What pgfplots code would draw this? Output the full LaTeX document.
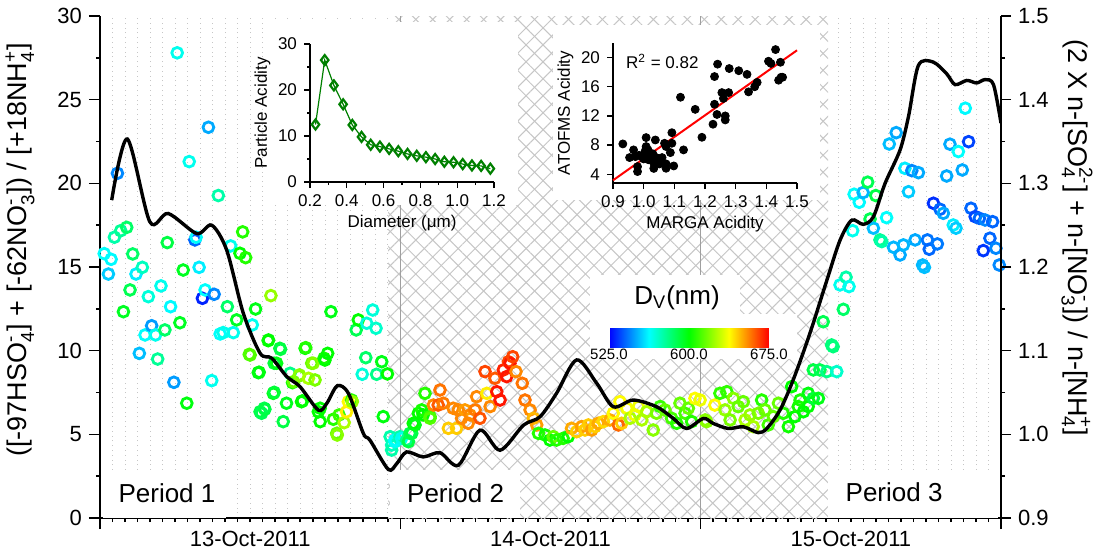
\documentclass[border=0pt]{standalone}
\usepackage{amsmath}
\usepackage{fontspec}
\setmainfont{Liberation Sans}
\usepackage{pgfplots}
\usepackage{pgfplotstable}
\pgfplotsset{compat=1.18}
\usetikzlibrary{patterns.meta}

% stacked super/subscript in text font
\newcommand{\ion}[2]{$^{\text{#1}}_{\text{#2}}$}

% time (days from 13-Oct 00:00), particle acidity, Dv (nm)
\pgfplotstableread{
d y dv
0.014 15.80 563
0.028 14.58 555
0.037 15.46 562
0.048 16.78 575
0.058 20.60 545
0.069 17.17 578
0.078 12.33 595
0.089 17.37 585
0.100 13.63 588
0.109 15.78 585
0.120 14.58 560
0.131 9.84 553
0.141 14.98 572
0.150 10.94 563
0.161 13.23 568
0.172 11.49 548
0.185 10.94 565
0.192 9.50 578
0.203 13.87 565
0.216 11.24 585
0.224 16.46 590
0.235 12.63 562
0.246 8.11 548
0.257 27.80 565
0.266 11.67 595
0.277 14.82 595
0.289 6.86 598
0.297 21.30 565
0.316 16.62 540
0.320 16.78 563
0.330 14.98 560
0.341 13.13 530
0.350 13.63 563
0.361 23.35 550
0.372 8.21 565
0.380 13.37 545
0.394 19.27 575
0.400 11.00 563
0.410 11.08 565
0.424 12.63 585
0.435 16.26 565
0.444 11.08 565
0.455 11.84 595
0.466 15.82 600
0.475 17.10 605
0.485 15.56 605
0.497 9.78 612
0.500 9.74 612
0.507 11.54 565
0.518 12.49 597
0.527 8.69 598
0.530 8.71 598
0.533 6.35 590
0.538 6.26 588
0.547 6.56 588
0.549 6.50 590
0.560 10.60 600
0.561 10.64 600
0.569 13.29 622
0.577 7.45 597
0.580 9.25 592
0.580 7.51 592
0.588 9.25 597
0.599 10.14 592
0.601 10.08 590
0.610 5.76 590
0.621 6.86 596
0.633 8.65 580
0.641 8.09 602
0.644 8.15 615
0.663 8.49 618
0.664 8.55 620
0.671 6.95 600
0.674 7.00 600
0.683 10.14 600
0.685 10.18 605
0.694 8.35 625
0.705 9.25 615
0.710 9.25 620
0.716 8.25 618
0.727 6.35 600
0.733 5.76 600
0.733 6.56 600
0.746 9.55 603
0.749 9.44 600
0.758 9.84 600
0.769 12.33 597
0.777 5.90 605
0.788 5.06 615
0.790 4.96 620
0.796 6.16 608
0.813 5.70 625
0.821 6.35 640
0.827 6.95 638
0.838 7.05 605
0.840 6.95 622
0.853 11.24 588
0.860 11.84 600
0.873 8.59 568
0.885 9.58 585
0.888 11.64 568
0.908 12.43 568
0.919 11.34 570
0.921 8.59 580
0.938 9.34 597
0.943 6.06 598
0.957 8.61 600
0.966 4.86 575
0.971 4.36 572
0.971 4.06 575
0.982 4.56 565
0.982 4.66 563
0.999 4.86 575
1.004 4.76 565
1.021 4.66 580
1.027 4.56 590
1.032 5.06 588
1.038 5.06 590
1.043 5.66 600
1.049 5.56 597
1.060 6.26 600
1.071 6.46 603
1.076 6.16 600
1.082 7.45 605
1.099 6.06 608
1.099 5.96 612
1.110 6.75 655
1.126 6.75 662
1.132 7.65 658
1.143 6.86 657
1.160 5.36 645
1.176 6.56 655
1.187 5.36 645
1.193 6.46 655
1.204 5.96 655
1.215 6.46 652
1.226 5.66 655
1.232 6.16 655
1.249 6.46 657
1.254 7.25 655
1.265 5.96 663
1.282 8.75 665
1.288 7.45 640
1.299 6.66 655
1.315 8.35 662
1.321 7.55 672
1.332 7.05 672
1.343 8.85 670
1.354 8.45 672
1.360 9.34 665
1.365 9.25 672
1.374 9.64 665
1.385 8.75 655
1.406 8.05 658
1.415 7.05 658
1.432 6.46 655
1.443 5.96 648
1.454 5.56 652
1.460 5.06 605
1.482 4.96 603
1.498 4.66 600
1.509 4.86 615
1.520 4.66 605
1.542 4.76 605
1.559 4.86 600
1.570 5.36 650
1.587 5.16 645
1.604 5.46 652
1.615 5.26 645
1.626 5.56 645
1.637 5.26 652
1.648 5.46 645
1.659 5.66 650
1.676 5.76 643
1.698 5.86 650
1.709 6.26 638
1.726 5.56 660
1.731 6.95 638
1.737 5.66 645
1.754 6.56 636
1.765 5.96 625
1.781 6.16 635
1.793 6.66 635
1.804 5.86 625
1.820 6.35 625
1.842 5.26 620
1.853 6.26 618
1.865 6.66 608
1.881 6.46 615
1.903 5.96 610
1.920 5.66 605
1.931 6.86 615
1.948 6.26 610
1.959 6.56 615
1.970 5.76 605
1.981 7.15 638
1.998 7.05 635
2.015 5.86 620
2.020 5.76 620
2.047 6.75 638
2.064 7.45 607
2.081 6.46 622
2.087 7.55 607
2.098 5.86 618
2.109 7.15 620
2.125 6.66 615
2.142 6.95 615
2.148 5.86 625
2.164 6.16 622
2.175 5.46 625
2.192 6.26 618
2.203 7.05 605
2.214 6.46 615
2.225 5.56 610
2.242 6.06 615
2.259 6.86 615
2.275 6.26 605
2.292 5.46 602
2.303 7.85 600
2.314 6.06 600
2.325 6.66 603
2.331 7.05 603
2.342 6.35 600
2.358 7.45 598
2.358 6.66 600
2.375 7.15 592
2.392 7.15 597
2.375 8.85 590
2.397 8.85 588
2.408 11.73 588
2.420 8.75 580
2.436 10.34 582
2.441 10.24 582
2.453 8.75 570
2.464 13.93 565
2.475 12.47 585
2.484 14.39 575
2.494 13.83 565
2.506 17.17 565
2.511 19.35 563
2.528 18.87 562
2.541 19.45 552
2.556 20.07 588
2.564 17.87 588
2.575 17.32 553
2.583 19.27 590
2.597 16.62 578
2.603 16.52 575
2.619 17.95 563
2.628 22.35 553
2.642 16.18 552
2.651 23.03 550
2.664 15.72 550
2.675 16.32 552
2.680 20.90 560
2.692 19.50 555
2.703 20.76 545
2.714 16.62 550
2.725 20.64 550
2.739 15.12 552
2.745 14.98 553
2.755 16.62 542
2.761 16.06 540
2.775 18.81 532
2.788 16.38 543
2.797 18.45 540
2.808 18.21 550
2.819 20.44 550
2.830 22.34 550
2.841 17.51 560
2.850 17.32 555
2.858 21.90 563
2.871 20.80 550
2.881 24.49 562
2.892 22.49 535
2.900 18.51 540
2.914 18.01 535
2.928 17.91 540
2.941 15.98 533
2.947 17.81 545
2.963 16.72 540
2.972 17.71 540
2.983 16.12 545
2.994 15.12 545
}\pmdata

% molar ratio (right axis)
\pgfplotstableread{
d r
0.039 1.280
0.091 1.353
0.166 1.254
0.227 1.264
0.322 1.240
0.372 1.250
0.422 1.220
0.477 1.145
0.533 1.097
0.572 1.091
0.622 1.069
0.666 1.057
0.727 1.029
0.755 1.037
0.790 1.058
0.827 1.049
0.877 1.001
0.899 0.993
0.960 0.958
0.988 0.965
1.021 0.979
1.076 0.973
1.132 0.978
1.193 0.963
1.265 1.005
1.332 0.981
1.410 1.011
1.465 1.021
1.520 1.049
1.587 1.089
1.654 1.061
1.709 1.033
1.775 1.041
1.853 1.033
1.909 1.019
1.953 1.007
2.009 1.019
2.042 1.013
2.092 1.007
2.142 1.009
2.192 1.002
2.220 1.007
2.264 1.029
2.308 1.065
2.364 1.121
2.420 1.184
2.464 1.232
2.503 1.256
2.541 1.251
2.575 1.260
2.614 1.300
2.664 1.340
2.692 1.380
2.725 1.441
2.774 1.445
2.819 1.431
2.847 1.418
2.886 1.423
2.919 1.420
2.947 1.424
2.975 1.418
3.000 1.372
}\ratio

\pgfplotstableread{
dia acid
0.23 12.5
0.28 26.5
0.33 21.0
0.38 16.9
0.43 12.4
0.48 9.8
0.53 8.1
0.58 7.7
0.63 7.2
0.68 6.7
0.73 6.1
0.78 5.7
0.83 5.4
0.88 5.0
0.93 4.4
0.98 4.3
1.03 3.9
1.08 3.6
1.13 3.5
1.18 2.9
}\sizedist

\pgfplotstableread{
marga atofms
0.932 8.16
0.967 7.34
0.954 6.29
0.973 6.42
0.980 5.05
0.980 4.37
0.995 6.42
1.008 9.03
1.008 7.80
1.014 7.34
1.020 6.90
1.009 6.42
1.024 5.97
1.033 5.50
1.033 4.80
1.038 8.70
1.043 5.74
1.052 5.42
1.060 6.29
1.068 8.25
1.073 7.80
1.073 5.42
1.073 4.82
1.087 6.97
1.092 8.25
1.092 9.70
1.098 5.14
1.130 7.34
1.120 14.56
1.168 12.90
1.190 9.07
1.226 10.86
1.231 17.40
1.231 13.60
1.239 12.20
1.241 19.10
1.255 15.20
1.260 14.40
1.266 12.00
1.266 11.45
1.277 15.20
1.279 18.50
1.310 18.20
1.337 17.70
1.342 15.30
1.362 16.00
1.370 16.60
1.407 19.50
1.415 19.20
1.430 21.10
1.446 19.36
1.440 16.90
1.448 17.30
1.453 17.30
1.000 6.10
1.015 6.00
1.040 6.30
1.005 7.20
1.030 6.80
0.985 6.60
}\scat

\begin{document}
\begin{tikzpicture}[font=\fontsize{11}{13}\selectfont]
\useasboundingbox (-50pt,-18pt) rectangle (505.5pt,259pt);

% ---------- main axis (left scale) ----------
\begin{axis}[
  at={(0pt,0pt)}, anchor=south west,
  scale only axis, width=450.5pt, height=251pt,
  xmin=0, xmax=3, ymin=0, ymax=30,
  clip=false,
  axis x line*=bottom, axis y line*=left,
  xtick={0,1,2,3}, xticklabels={},
  extra x ticks={0.5,1.5,2.5},
  extra x tick labels={13-Oct-2011,14-Oct-2011,15-Oct-2011},
  extra x tick style={major tick length=0pt, grid=none,
    xticklabel style={yshift=-3pt}},
  minor x tick num=23,
  xminorgrids=true,
  minor x grid style={gray!45, dotted, line width=0.4pt},
  ytick={0,5,10,15,20,25,30}, minor y tick num=1,
  tick align=outside,
  major tick length=5.5pt, minor tick length=2pt,
  tick style={black, line width=0.8pt},
  axis line style={line width=0.9pt},
  tick label style={font=\fontsize{11}{13}\selectfont},
  /pgf/number format/assume math mode=true,
  colormap={dv}{rgb255(0cm)=(0,0,255); rgb255(1cm)=(0,255,255);
    rgb255(2cm)=(0,255,0); rgb255(3cm)=(255,255,0); rgb255(4cm)=(255,0,0)},
  point meta min=525, point meta max=675,
  colorbar horizontal,
  colorbar style={
    at={(254.5pt,103.5pt)}, anchor=north west,
    scale only axis, width=80pt, height=9.5pt,
    xtick={525,600,675}, xticklabels={525.0,600.0,675.0},
    xticklabel style={font=\fontsize{7.5}{9}\selectfont, yshift=2.5pt},
    major tick length=0pt, axis line style={draw=none},
  },
]
% shaded period 2
\fill[white] (0.959,0) rectangle (2.424,30);
\fill[pattern={Lines[angle=45,distance=6pt,line width=0.5pt]}, pattern color=gray!45]
  (0.959,0) rectangle (2.424,30);
\fill[pattern={Lines[angle=-45,distance=6pt,line width=0.5pt]}, pattern color=gray!45]
  (0.959,0) rectangle (2.424,30);
\draw[gray!75, line width=0.6pt] (1,0) -- (1,30);
\draw[gray!75, line width=0.6pt] (2,0) -- (2,30);
% white panels behind insets, colour bar and period labels
\fill[white] (0.549,18.7) rectangle (1.392,29.64);
\fill[white] (1.508,19.0) rectangle (2.397,29.46);
\fill[white] (1.631,12.2) rectangle (2.131,14.52);
\fill[white] (1.631,9.5) rectangle (2.321,12.2);
\fill[white] (0.966,0) rectangle (1.398,2.87);
\fill[white] (2.424,0) rectangle (2.99,2.87);
\fill[white] (0.01,0) rectangle (0.42,2.87);

\addplot[scatter, only marks, mark=o, mark size=2.7pt,
  scatter/use mapped color={draw=mapped color, fill=none, line width=1.4pt},
  mark options={line width=1.4pt}, point meta=explicit]
  table[x=d, y=y, meta=dv] {\pmdata};

\node[font=\fontsize{13}{15}\selectfont] at (0.223,1.5) {Period 1};
\node[font=\fontsize{13}{15}\selectfont] at (1.184,1.5) {Period 2};
\node[font=\fontsize{13}{15}\selectfont] at (2.644,1.55) {Period 3};
\end{axis}

% ---------- right scale: molar ratio ----------
\begin{axis}[
  at={(0pt,0pt)}, anchor=south west,
  scale only axis, width=450.5pt, height=251pt,
  xmin=0, xmax=3, ymin=0.9, ymax=1.5,
  axis x line=none, axis y line*=right,
  ytick={0.9,1.0,1.1,1.2,1.3,1.4,1.5}, minor y tick num=1,
  tick align=outside,
  major tick length=5pt, minor tick length=2pt,
  tick style={black, line width=0.8pt},
  axis line style={line width=0.9pt},
  tick label style={font=\fontsize{11}{13}\selectfont},
  /pgf/number format/assume math mode=true,
  /pgf/number format/fixed, /pgf/number format/fixed zerofill,
  /pgf/number format/precision=1,
]
\addplot[black, line width=1.7pt, smooth, no marks] table[x=d, y=r] {\ratio};
\end{axis}

% ---------- inset: size-resolved acidity ----------
\begin{axis}[
  at={(105pt,168pt)}, anchor=south west,
  scale only axis, width=92pt, height=69pt,
  xmin=0.2, xmax=1.2, ymin=0, ymax=30,
  axis x line*=bottom, axis y line*=left,
  xtick={0.2,0.4,0.6,0.8,1.0,1.2}, minor x tick num=1,
  ytick={0,10,20,30}, minor y tick num=1,
  tick align=outside, major tick length=3pt, minor tick length=1.5pt,
  tick style={black, line width=0.6pt},
  axis line style={line width=0.6pt},
  tick label style={font=\fontsize{8.5}{10}\selectfont},
  label style={font=\fontsize{8.5}{10}\selectfont},
  /pgf/number format/assume math mode=true,
  xticklabel style={/pgf/number format/fixed, /pgf/number format/fixed zerofill, /pgf/number format/precision=1},
  xlabel={Diameter (μm)}, ylabel={Particle Acidity},
  xlabel style={yshift=3pt}, ylabel style={yshift=-3pt},
]
\addplot[color={rgb,255:red,0;green,128;blue,0}, line width=0.6pt, mark=diamond,
  mark size=2.5pt, mark options={line width=1.1pt}]
  table[x=dia, y=acid] {\sizedist};
\end{axis}

% ---------- inset: ATOFMS vs MARGA ----------
\begin{axis}[
  at={(256.5pt,167.5pt)}, anchor=south west,
  scale only axis, width=92pt, height=70pt,
  xmin=0.9, xmax=1.5, ymin=2.8, ymax=22,
  axis x line*=bottom, axis y line*=left,
  xtick={0.9,1.0,1.1,1.2,1.3,1.4,1.5},
  ytick={4,8,12,16,20},
  tick align=outside, major tick length=3pt,
  tick style={black, line width=0.6pt},
  axis line style={line width=0.6pt},
  tick label style={font=\fontsize{8.5}{10}\selectfont},
  label style={font=\fontsize{8.5}{10}\selectfont},
  /pgf/number format/assume math mode=true,
  xticklabel style={/pgf/number format/fixed, /pgf/number format/fixed zerofill, /pgf/number format/precision=1},
  xlabel={MARGA Acidity}, ylabel={ATOFMS Acidity},
  xlabel style={yshift=3pt}, ylabel style={yshift=-3pt},
  clip=false,
]
\addplot[only marks, mark=*, mark size=2pt, black] table[x=marga, y=atofms] {\scat};
\addplot[red, line width=1pt, no marks] coordinates {(0.9,3.17) (1.5,21.0)};
\node[anchor=west, font=\fontsize{8.5}{10}\selectfont] at (0.92,19.45) {R\textsuperscript{2} = 0.82};
\end{axis}

% colour bar title and axis titles
\node[font=\fontsize{13}{15}\selectfont] at (288.5pt,110pt) {D\textsubscript{V}(nm)};
\node[rotate=90, font=\fontsize{13.5}{16}\selectfont] at (-40pt,134pt)
  {([-97HSO\ion{-}{4}] + [-62NO\ion{-}{3}]) / [+18NH\ion{+}{4}]};
\node[rotate=-90, font=\fontsize{13.5}{16}\selectfont] at (488.5pt,140pt)
  {(2 X n-[SO\ion{2-}{4}] + n-[NO\ion{-}{3}]) / n-[NH\ion{+}{4}]};
\end{tikzpicture}
\end{document}
